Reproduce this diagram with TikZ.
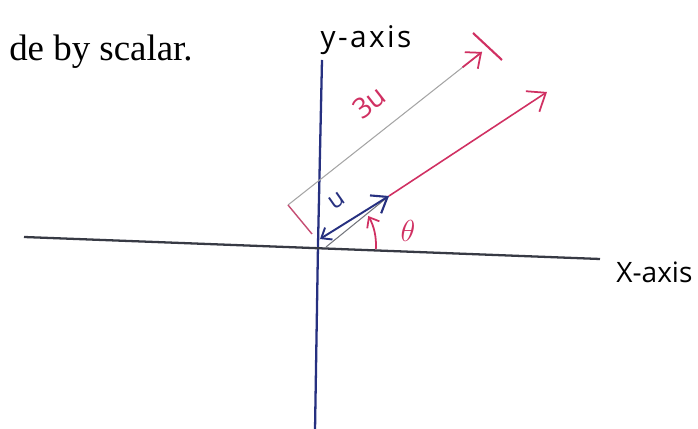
\documentclass[tikz,border=0pt]{standalone}
\usepackage{fontspec}
\setmainfont{Liberation Serif}
\newfontfamily\handfont{Open Sans}
\usepackage{tikz}
\usetikzlibrary{arrows.meta,calc}
\definecolor{penblue}{RGB}{38,48,128}
\definecolor{penred}{RGB}{208,48,98}
\definecolor{pengray}{RGB}{55,58,68}
\definecolor{dimgray}{RGB}{165,165,165}

\begin{document}
\begin{tikzpicture}[x=0.02cm, y=0.02cm,
    axis/.style={line width=1.3pt},
    vec/.style={line width=0.9pt, -{Straight Barb[length=9pt, width=14pt, line width=1pt]}},
    dim/.style={line width=0.6pt, draw=dimgray},
    hand/.style={inner sep=0pt, font=\handfont}
]
\useasboundingbox (0,0) rectangle (698,429);
\clip (0,0) rectangle (698,429);

\node[inner sep=0pt, anchor=base east, font=\fontsize{21}{25}\selectfont] (caption) at (193,368) {de by scalar.};

% axes
\coordinate (O) at (318,184);
\coordinate (ytop) at (322,369);
\coordinate (ybot) at (315,-2);
\coordinate (xleft) at (24,192);
\coordinate (xright) at (600,170);
\draw[axis, penblue] (ybot) -- (O) -- (ytop);
\draw[axis, pengray] (xleft) -- (xright);
\node[hand, font=\handfont\fontsize{17}{20}\selectfont\addfontfeature{LetterSpace=8}] (ylabel) at (366,389) {y-axis};
\node[hand, anchor=west, font=\handfont\fontsize{16}{19}\selectfont] (xlabel) at (616,157) {X-axis};

% vector u and 3u
\coordinate (ustart) at (320,190);
\coordinate (utip) at (389,233);
\coordinate (glow) at (326,182);
\draw[dim, pengray!70] (glow) -- (utip);
\draw[line width=1.1pt, penblue, {Straight Barb[length=5pt, width=8pt]}-{Straight Barb[length=8pt, width=12pt, line width=1.2pt]}] (ustart) -- (utip);
\node[hand, penblue, rotate=35, font=\handfont\fontsize{14}{16}\selectfont] (ulabel) at (337,228) {u};

\coordinate (vtip) at (547,337);
\draw[vec, penred] (utip) -- (vtip);

% dimension line 3u
\coordinate (dlow) at (288,224);
\coordinate (dfoot) at (312,195);
\coordinate (dtop) at (482,377);
\coordinate (tick1) at (473,396);
\coordinate (tick2) at (502,369);
\draw[dim] (dlow) -- (dtop);
\draw[line width=0.8pt, penred!75!dimgray] (dfoot) -- (dlow);
\draw[line width=1pt, penred, -{Straight Barb[length=7pt, width=12pt]}] ($(dlow)!0.9!(dtop)$) -- (dtop);
\draw[line width=1.2pt, penred] (tick1) -- (tick2);
\node[hand, penred, rotate=38, font=\handfont\fontsize{16}{19}\selectfont] (dlabel) at (369,327) {3u};

% angle
\draw[line width=1pt, penred, -{Straight Barb[length=5pt, width=8pt]}] ([shift={(-4:58)}]O) arc[start angle=-4, end angle=30, radius=58];
\node[hand, penred, font=\fontsize{16}{19}\selectfont] (theta) at (408,198) {$\theta$};
\end{tikzpicture}
\end{document}
